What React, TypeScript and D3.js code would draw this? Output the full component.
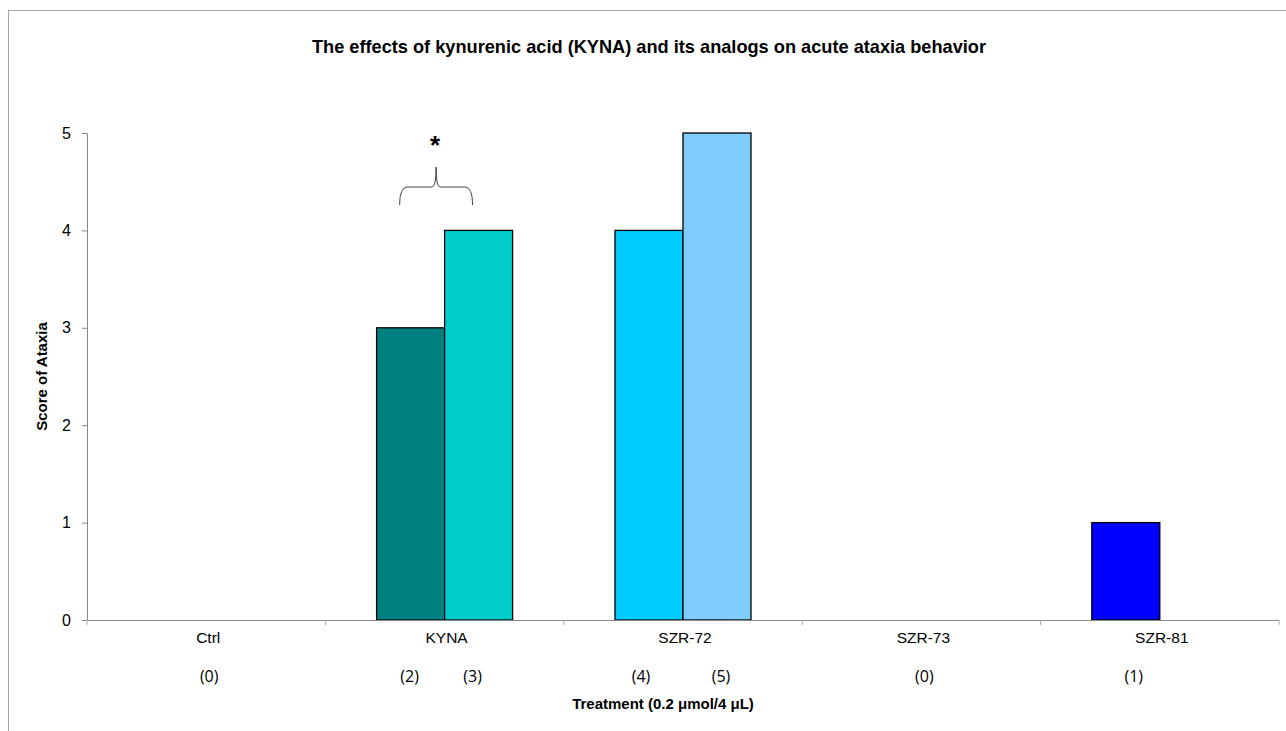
import React, { useEffect, useRef } from "react";
import * as d3 from "d3";

const categories = ["Ctrl", "KYNA", "SZR-72", "SZR-73", "SZR-81"];
const firstValues = [0, 3, 4, 0, 1];
const secondValues = [0, 4, 5, 0, 0];
const firstColors = ["#008080", "#008080", "#00CCFF", "#0000FF", "#0000FF"];
const secondColors = ["#00CCCC", "#00CCCC", "#7FCCFF", "#7FCCFF", "#7FCCFF"];
// counts printed under each category
const countCategories = ["Ctrl", "KYNA", "KYNA", "SZR-72", "SZR-72", "SZR-73", "SZR-81"];
const countTexts = ["(0)", "(2)", "(3)", "(4)", "(5)", "(0)", "(1)"];
const yTicks = [0, 1, 2, 3, 4, 5];

// horizontal nudge of each count label from its category centre (layout only)
const countOffsets = [3, -35, 28, -42, 38, 3, -26];

const App = () => {
  const svgRef = useRef<SVGSVGElement>(null);

  useEffect(() => {
    const svg = d3.select(svgRef.current);
    svg.selectAll("*").remove();

    const width = 1286;
    const height = 731;
    const margin = { top: 133, right: 7, bottom: 111, left: 87 };
    const font = "Liberation Sans, Arial, sans-serif";

    // outer frame
    svg
      .append("rect")
      .attr("x", 8.5)
      .attr("y", 10.5)
      .attr("width", 1300)
      .attr("height", 760)
      .attr("fill", "white")
      .attr("stroke", "#a6a6a6");

    const x = d3
      .scaleBand()
      .domain(categories)
      .range([margin.left, width - margin.right]);

    const y = d3
      .scaleLinear()
      .domain([0, 5])
      .range([height - margin.bottom, margin.top]);

    const barW = 68;
    const center = (c: string) => (x(c) ?? 0) + x.bandwidth() / 2;

    const g = svg.append("g");

    // first series (left of centre)
    g.selectAll("rect.a")
      .data(categories.map((c, i) => ({ c, v: firstValues[i], col: firstColors[i] })).filter((d) => d.v > 0))
      .enter()
      .append("rect")
      .attr("x", (d) => center(d.c) - barW)
      .attr("y", (d) => y(d.v))
      .attr("width", barW)
      .attr("height", (d) => y(0) - y(d.v))
      .attr("fill", (d) => d.col)
      .attr("stroke", "#000")
      .attr("stroke-width", 1.3);

    // second series (right of centre)
    g.selectAll("rect.b")
      .data(categories.map((c, i) => ({ c, v: secondValues[i], col: secondColors[i] })).filter((d) => d.v > 0))
      .enter()
      .append("rect")
      .attr("x", (d) => center(d.c))
      .attr("y", (d) => y(d.v))
      .attr("width", barW)
      .attr("height", (d) => y(0) - y(d.v))
      .attr("fill", (d) => d.col)
      .attr("stroke", "#000")
      .attr("stroke-width", 1.3);

    // y axis
    const yAxis = svg
      .append("g")
      .attr("transform", `translate(${margin.left},0)`)
      .call(d3.axisLeft(y).tickValues(yTicks).tickFormat(d3.format("d")).tickSize(5).tickPadding(11));
    yAxis.select(".domain").attr("stroke", "#888");
    yAxis.selectAll(".tick line").attr("stroke", "#888");
    yAxis.selectAll("text").attr("font-family", font).attr("font-size", 16).attr("fill", "#000");

    // x axis line and ticks at category boundaries
    const boundaries = categories.map((c) => x(c) ?? 0).concat([width - margin.right]);
    svg
      .append("line")
      .attr("x1", margin.left)
      .attr("x2", width - margin.right)
      .attr("y1", y(0) + 0.5)
      .attr("y2", y(0) + 0.5)
      .attr("stroke", "#888");
    svg
      .selectAll("line.xt")
      .data(boundaries)
      .enter()
      .append("line")
      .attr("x1", (d) => d)
      .attr("x2", (d) => d)
      .attr("y1", y(0))
      .attr("y2", y(0) + 5)
      .attr("stroke", "#aaa");

    svg
      .selectAll("text.cat")
      .data(categories)
      .enter()
      .append("text")
      .attr("x", (d) => center(d) + 2)
      .attr("y", y(0) + 23)
      .attr("text-anchor", "middle")
      .attr("font-family", font)
      .attr("font-size", 15.5)
      .text((d) => d);

    svg
      .selectAll("text.n")
      .data(countTexts)
      .enter()
      .append("text")
      .attr("x", (d, i) => center(countCategories[i]) + countOffsets[i])
      .attr("y", y(0) + 62)
      .attr("text-anchor", "middle")
      .attr("font-family", "Open Sans, Noto Sans, sans-serif")
      .attr("font-size", 16)
      .text((d) => d);

    // titles
    svg
      .append("text")
      .attr("x", 649)
      .attr("y", 53)
      .attr("text-anchor", "middle")
      .attr("font-family", font)
      .attr("font-size", 18.2)
      .attr("font-weight", "bold")
      .text("The effects of kynurenic acid (KYNA) and its analogs on acute ataxia behavior");

    svg
      .append("text")
      .attr("x", 663)
      .attr("y", 709)
      .attr("text-anchor", "middle")
      .attr("font-family", font)
      .attr("font-size", 15)
      .attr("font-weight", "bold")
      .text("Treatment (0.2 \u03bcmol/4 \u03bcL)");

    svg
      .append("text")
      .attr("transform", `translate(47,${(y(0) + y(5)) / 2}) rotate(-90)`)
      .attr("text-anchor", "middle")
      .attr("font-family", font)
      .attr("font-size", 15)
      .attr("font-weight", "bold")
      .text("Score of Ataxia");

    // significance bracket over KYNA
    const kx0 = center("KYNA") - 45;
    const kx1 = center("KYNA") + 28;
    const kc = (kx0 + kx1) / 2;
    const by = 187;
    const bracket = d3.path();
    bracket.moveTo(kx0, by + 18);
    bracket.quadraticCurveTo(kx0, by, kx0 + 8, by);
    bracket.lineTo(kc - 4, by);
    bracket.quadraticCurveTo(kc, by, kc, by - 20);
    bracket.quadraticCurveTo(kc, by, kc + 4, by);
    bracket.lineTo(kx1 - 8, by);
    bracket.quadraticCurveTo(kx1, by, kx1, by + 18);
    svg
      .append("path")
      .attr("d", bracket.toString())
      .attr("fill", "none")
      .attr("stroke", "#444")
      .attr("stroke-width", 1);

    svg
      .append("text")
      .attr("x", kc - 1)
      .attr("y", 154)
      .attr("text-anchor", "middle")
      .attr("font-family", font)
      .attr("font-size", 26)
      .attr("font-weight", "bold")
      .text("*");
  }, []);

  return (
    <svg
      ref={svgRef}
      width={1286}
      height={731}
      style={{ position: "absolute", left: 0, top: 0, display: "block", background: "white" }}
    ></svg>
  );
};

export default App;
